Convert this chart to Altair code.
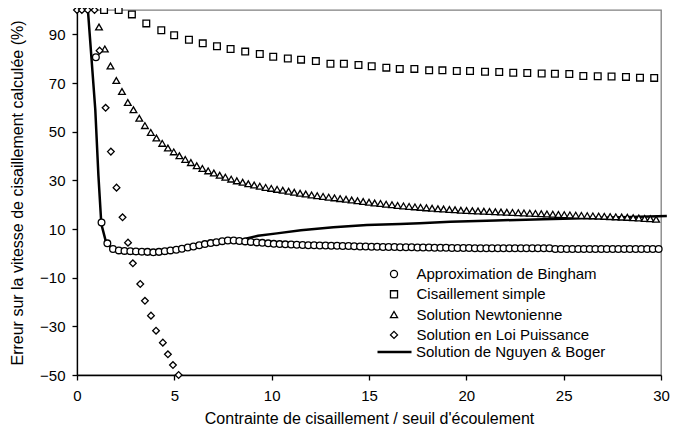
import altair as alt
import pandas as pd

x_ticks = [0, 5, 10, 15, 20, 25, 30]
y_ticks = [-50, -30, -10, 10, 30, 50, 70, 90]

noms = [
    "Approximation de Bingham",
    "Cisaillement simple",
    "Solution Newtonienne",
    "Solution en Loi Puissance",
    "Solution de Nguyen & Boger",
]

bingham_x = [0.97, 1.26, 1.56, 1.85, 2.15, 2.44, 2.74, 3.03, 3.33, 3.62, 3.92, 4.21, 4.51, 4.80, 5.10,
             5.39, 5.69, 5.98, 6.28, 6.57, 6.87, 7.16, 7.46, 7.75, 8.05, 8.34, 8.64, 8.93, 9.23, 9.52,
             9.82, 10.11, 10.41, 10.70, 11.00, 11.29, 11.59, 11.88, 12.18, 12.47, 12.77, 13.06, 13.36,
             13.65, 13.95, 14.24, 14.54, 14.83, 15.13, 15.42, 15.72, 16.01, 16.31, 16.60, 16.90, 17.19,
             17.49, 17.78, 18.08, 18.37, 18.67, 18.96, 19.26, 19.55, 19.85, 20.14, 20.44, 20.73, 21.03,
             21.32, 21.62, 21.91, 22.21, 22.50, 22.80, 23.09, 23.39, 23.68, 23.98, 24.27, 24.57, 24.86,
             25.16, 25.45, 25.75, 26.04, 26.34, 26.63, 26.93, 27.22, 27.52, 27.81, 28.11, 28.40, 28.70,
             28.99, 29.29, 29.58, 29.88]
bingham_y = [80.6, 12.7, 4.1, 1.8, 1.2, 1.0, 0.9, 0.8, 0.7, 0.6, 0.4, 0.6, 0.9, 1.2, 1.5,
             1.9, 2.4, 2.8, 3.3, 3.8, 4.2, 4.6, 5.0, 5.3, 5.3, 5.1, 4.9, 4.7, 4.5, 4.3,
             4.1, 3.9, 3.8, 3.7, 3.6, 3.5, 3.4, 3.3, 3.3, 3.2, 3.2, 3.1, 3.1,
             3.0, 3.0, 2.9, 2.8, 2.8, 2.7, 2.7, 2.6, 2.6, 2.6, 2.5, 2.5, 2.5,
             2.4, 2.4, 2.4, 2.3, 2.3, 2.3, 2.2, 2.2, 2.2, 2.2, 2.1, 2.1, 2.1,
             2.1, 2.1, 2.1, 2.1, 2.1, 2.1, 2.1, 2.1, 2.1, 2.1, 2.1, 1.8, 1.8,
             1.8, 1.8, 1.8, 1.8, 1.8, 1.8, 1.8, 1.8, 1.8, 1.8, 1.8, 1.8, 1.8,
             1.8, 1.8, 1.8, 1.8]

simple_x = [1.39, 2.14, 2.82, 3.56, 4.33, 4.99, 5.75, 6.46, 7.19, 7.89, 8.64, 9.39, 10.08, 10.83,
            11.51, 12.27, 13.02, 13.71, 14.46, 15.14, 15.89, 16.58, 17.33, 18.09, 18.77, 19.51,
            20.19, 20.96, 21.69, 22.41, 23.13, 23.87, 24.55, 25.29, 26.01, 26.75, 27.46, 28.20,
            28.92, 29.65]
simple_y = [100, 100, 98.2, 94.5, 91.7, 89.6, 87.8, 86.3, 85.1, 84.0, 82.9, 81.9, 80.8, 80.1,
            79.6, 79.0, 77.9, 77.9, 77.4, 76.9, 76.3, 75.8, 75.8, 75.2, 75.2, 74.9,
            74.9, 74.6, 74.5, 74.2, 74.1, 73.9, 73.8, 73.7, 72.9, 72.8, 72.7, 72.5,
            72.2, 72.1]

newton_x = [1.13, 1.43, 1.72, 2.02, 2.31, 2.61, 2.90, 3.20, 3.49, 3.79, 4.08, 4.38, 4.67, 4.97, 5.26,
            5.56, 5.85, 6.15, 6.44, 6.74, 7.03, 7.33, 7.62, 7.92, 8.21, 8.51, 8.80, 9.10, 9.39, 9.69,
            9.98, 10.28, 10.57, 10.87, 11.16, 11.46, 11.75, 12.05, 12.34, 12.64, 12.93, 13.23, 13.52,
            13.82, 14.11, 14.41, 14.70, 15.00, 15.29, 15.59, 15.88, 16.18, 16.47, 16.77, 17.06, 17.36,
            17.65, 17.95, 18.24, 18.54, 18.83, 19.13, 19.42, 19.72, 20.01, 20.31, 20.60, 20.90, 21.19,
            21.49, 21.78, 22.08, 22.37, 22.67, 22.96, 23.26, 23.55, 23.85, 24.14, 24.44, 24.73, 25.03,
            25.32, 25.62, 25.91, 26.21, 26.50, 26.80, 27.09, 27.39, 27.68, 27.98, 28.27, 28.57, 28.86,
            29.16, 29.45, 29.75]
newton_y = [93.0, 84.0, 77.0, 71.0, 66.5, 62.0, 59.0, 55.5, 52.5, 49.7, 47.4, 45.2, 43.3, 41.7, 40.1,
            38.6, 37.3, 36.0, 34.9, 33.9, 33.0, 32.1, 31.3, 30.5, 29.8, 29.2, 28.6, 28.1, 27.6, 27.1,
            26.7, 26.3, 25.9, 25.5, 25.1, 24.7, 24.4, 24.0, 23.7, 23.4, 23.1, 22.8, 22.5,
            22.2, 21.9, 21.6, 21.3, 21.0, 20.7, 20.5, 20.2, 20.0, 19.7, 19.5, 19.3, 19.1,
            18.9, 18.7, 18.5, 18.3, 18.2, 18.0, 17.9, 17.7, 17.6, 17.5, 17.4, 17.3, 17.2,
            17.1, 17.0, 16.9, 16.8, 16.7, 16.6, 16.5, 16.4, 16.3, 16.2, 16.1, 16.0, 15.9,
            15.8, 15.7, 15.6, 15.5, 15.4, 15.3, 15.2, 15.1, 15.0, 14.9, 14.8, 14.6, 14.5,
            14.3, 14.2, 14.0]

puissance_x = [0.0, 0.25, 0.55, 0.9, 1.16, 1.47, 1.74, 2.03, 2.34, 2.62, 2.87, 3.25, 3.49, 3.80,
               4.06, 4.41, 4.67, 4.93, 5.22]
puissance_y = [100, 100, 100, 100, 83.3, 59.8, 41.8, 27.0, 14.8, 4.4, -4.1, -12.6, -19.5, -25.6,
               -31.8, -36.7, -41.5, -45.9, -50.0]

nguyen_x = [0, 0.56, 0.94, 1.1, 1.25, 1.5, 1.8, 2.2, 3.0, 3.9, 4.8, 5.7, 6.6, 7.5, 8.0, 8.55, 9.3,
            10.27, 11.5, 13.17, 14.89, 16.6, 17.6, 19.17, 21.5, 23.95, 27.0, 30.3]
nguyen_y = [100, 100, 59, 32, 12, 4.3, 2.0, 1.0, 0.6, 0.3, 1.1, 2.4, 3.7, 5.0, 5.4, 5.8, 7.2,
            8.2, 9.5, 10.7, 11.6, 12.1, 12.4, 13.0, 13.5, 14.0, 14.6, 15.3]

rows = []
for i, (nom, xs, ys) in enumerate([(noms[0], bingham_x, bingham_y), (noms[1], simple_x, simple_y),
                                   (noms[2], newton_x, newton_y), (noms[3], puissance_x, puissance_y)]):
    rows += [{"x": a, "y": b, "serie": nom, "rang": i} for a, b in zip(xs, ys)]
pts = pd.DataFrame(rows)
ligne = pd.DataFrame({"x": nguyen_x, "y": nguyen_y, "ligne": noms[4]})

FONT = "Liberation Sans"
xscale = alt.Scale(domain=[0, 30], nice=False)
yscale = alt.Scale(domain=[-50, 100], nice=False)

xaxis = alt.Axis(values=x_ticks, grid=False, tickSize=5, labelPadding=8, labelFontSize=15,
                 titleFontSize=16, titleFontWeight="normal", titlePadding=7, labelFlush=False)
yaxis = alt.Axis(values=y_ticks, grid=False, tickSize=5, labelPadding=7, labelFontSize=15,
                 titleFontSize=16, titleFontWeight="normal", titlePadding=14)

X = alt.X("x:Q", scale=xscale, axis=xaxis, title="Contrainte de cisaillement / seuil d'écoulement")
Y = alt.Y("y:Q", scale=yscale, axis=yaxis, title="Erreur sur la vitesse de cisaillement calculée (%)")

line = alt.Chart(ligne).mark_line(strokeWidth=2.5, clip=False).encode(
    x=X, y=Y,
    color=alt.Color("ligne:N", scale=alt.Scale(domain=[noms[4]], range=["black"]),
                    legend=alt.Legend(orient="none", legendX=299, legendY=323.5, title=None,
                                      symbolType="stroke", symbolSize=1156, symbolStrokeWidth=2.5,
                                      labelFontSize=15, labelFont=FONT, labelOffset=3, padding=0,
                                      labelColor="black", labelLimit=400)),
)

leg_pts = dict(orient="none", legendX=309.5, legendY=256.5, title=None,
               symbolSize=50, symbolFillColor="white", symbolStrokeWidth=1.3,
               labelFontSize=15, labelFont=FONT, labelOffset=15,
               rowPadding=4.3, padding=0, labelColor="black", labelLimit=400)

points = alt.Chart(pts).mark_point(filled=False, fill="white", fillOpacity=1,
                                   strokeWidth=1.3, opacity=1).encode(
    x=X, y=Y,
    shape=alt.Shape("serie:N", scale=alt.Scale(domain=noms[:4],
                                               range=["circle", "square", "triangle-up", "diamond"]),
                    legend=alt.Legend(**leg_pts)),
    stroke=alt.Stroke("serie:N", scale=alt.Scale(domain=noms[:4],
                                                 range=["black", "black", "black", "black"]),
                      legend=alt.Legend(**leg_pts)),
    size=alt.Size("rang:O", scale=alt.Scale(domain=[0, 1, 2, 3], range=[45, 45, 75, 190]),
                  legend=None),
)

chart = alt.layer(line, points).properties(
    width=584, height=365,
    autosize=alt.AutoSizeParams(type="none"),
    padding={"left": 69, "top": 2, "right": 9, "bottom": 55},
).configure(font=FONT).configure_view(
    stroke="#808080", strokeWidth=1.3
).configure_axis(
    domainColor="black", tickColor="black", labelColor="black", titleColor="black",
    domainWidth=1.3, tickWidth=1.3, labelFont=FONT, titleFont=FONT
)

chart.save("out.html", embed_options={"renderer": "svg", "actions": False})
